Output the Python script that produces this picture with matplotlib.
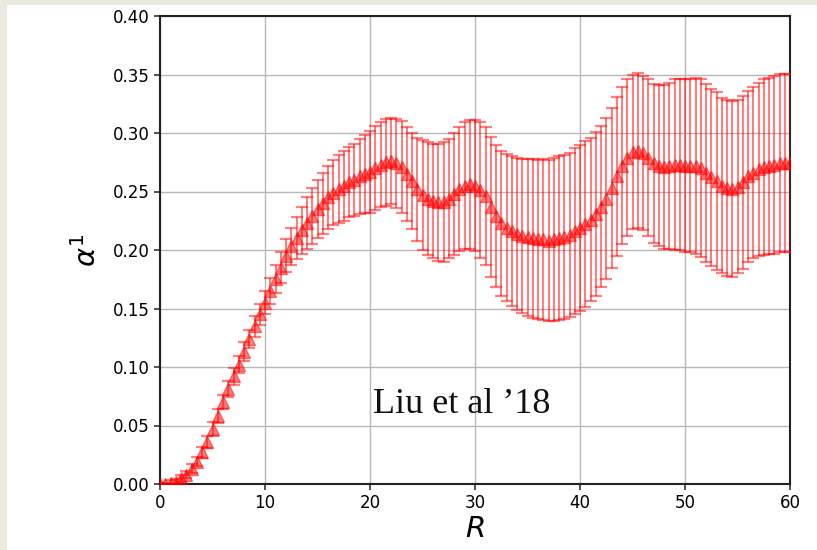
import numpy as np
import matplotlib
matplotlib.use("Agg")
import matplotlib.pyplot as plt
from matplotlib.patches import Rectangle

# Sample positions along R
R = np.linspace(0, 60, 121)

# Mean of alpha^1 at each R
alpha_mean = [
    0.000, 0.000, 0.001, 0.002, 0.005, 0.008, 0.013, 0.019, 0.027, 0.036,
    0.047, 0.058, 0.070, 0.081, 0.092, 0.102, 0.113, 0.124, 0.135, 0.145,
    0.155, 0.165, 0.175, 0.185, 0.195, 0.203, 0.210, 0.217, 0.223, 0.229,
    0.235, 0.240, 0.245, 0.249, 0.252, 0.255, 0.258, 0.260, 0.263, 0.265,
    0.267, 0.270, 0.273, 0.275, 0.276, 0.274, 0.271, 0.265, 0.259, 0.252,
    0.247, 0.244, 0.242, 0.241, 0.241, 0.244, 0.248, 0.252, 0.255, 0.256,
    0.255, 0.251, 0.246, 0.237, 0.229, 0.223, 0.219, 0.216, 0.214, 0.212,
    0.211, 0.210, 0.209, 0.209, 0.208, 0.209, 0.210, 0.211, 0.213, 0.216,
    0.219, 0.222, 0.226, 0.231, 0.237, 0.244, 0.253, 0.263, 0.272, 0.279,
    0.284, 0.285, 0.283, 0.279, 0.274, 0.272, 0.271, 0.272, 0.273, 0.273,
    0.272, 0.272, 0.272, 0.270, 0.266, 0.262, 0.259, 0.255, 0.253, 0.252,
    0.254, 0.258, 0.263, 0.266, 0.269, 0.271, 0.272, 0.273, 0.274, 0.274,
    0.274,
]

# Spread (one standard deviation) at each R
alpha_err = [
    0.001, 0.001, 0.002, 0.002, 0.003, 0.003, 0.004, 0.004, 0.005, 0.005,
    0.006, 0.006, 0.006, 0.007, 0.007, 0.007, 0.008, 0.008, 0.009, 0.009,
    0.010, 0.011, 0.012, 0.013, 0.014, 0.016, 0.018, 0.020, 0.022, 0.024,
    0.025, 0.026, 0.027, 0.028, 0.029, 0.030, 0.030, 0.031, 0.032, 0.033,
    0.035, 0.036, 0.036, 0.037, 0.037, 0.038, 0.039, 0.040, 0.041, 0.044,
    0.047, 0.048, 0.049, 0.050, 0.051, 0.051, 0.052, 0.053, 0.054, 0.055,
    0.056, 0.058, 0.059, 0.060, 0.061, 0.062, 0.063, 0.064, 0.065, 0.066,
    0.067, 0.068, 0.068, 0.069, 0.069, 0.070, 0.070, 0.070, 0.070, 0.071,
    0.071, 0.071, 0.070, 0.070, 0.069, 0.069, 0.068, 0.068, 0.067, 0.067,
    0.066, 0.066, 0.066, 0.067, 0.068, 0.069, 0.070, 0.071, 0.073, 0.073,
    0.074, 0.074, 0.075, 0.076, 0.076, 0.076, 0.076, 0.075, 0.075, 0.075,
    0.074, 0.074, 0.073, 0.073, 0.074, 0.075, 0.075, 0.076, 0.076, 0.076,
    0.076,
]

x_ticks = [0, 10, 20, 30, 40, 50, 60]
y_ticks = [0.00, 0.05, 0.10, 0.15, 0.20, 0.25, 0.30, 0.35, 0.40]

fig = plt.figure(figsize=(8.17, 5.50), dpi=100, facecolor="#ece9df")
# white panel inside the cream frame
fig.patches.append(Rectangle((7 / 817, 0), 1 - 7 / 817, 1 - 5 / 550,
                             transform=fig.transFigure, facecolor="white",
                             edgecolor="none", zorder=-10))

ax = fig.add_axes([160 / 817, 1 - 484 / 550, 630 / 817, 468 / 550])
ax.set_zorder(2)
ax.set_facecolor("white")

ax.errorbar(R, alpha_mean, yerr=alpha_err, fmt="^", color="red",
            markersize=8, alpha=0.5, ecolor="red", elinewidth=1.5,
            capsize=4.2, capthick=1.6, zorder=3)

ax.set_xlim(0, 60)
ax.set_ylim(0, 0.40)
ax.set_xticks(x_ticks)
ax.set_yticks(y_ticks)
ax.set_yticklabels([f"{v:.2f}" for v in y_ticks])
ax.tick_params(labelsize=12, length=4, width=1.2, color="#333333")
ax.grid(True, color="#b8b8b8", linewidth=1.0)
ax.set_axisbelow(True)
for s in ax.spines.values():
    s.set_linewidth(1.5)
    s.set_color("#222222")

ax.set_xlabel(r"$R$", fontsize=21, labelpad=2)
ax.set_ylabel(r"$\alpha^1$", fontsize=21, labelpad=8)

ax.text(20.3, 0.0607, "Liu et al \u201918", fontsize=26,
        family="Liberation Serif", color="#111111", va="baseline", zorder=5)

fig.savefig("out.png", dpi=100, facecolor=fig.get_facecolor())
